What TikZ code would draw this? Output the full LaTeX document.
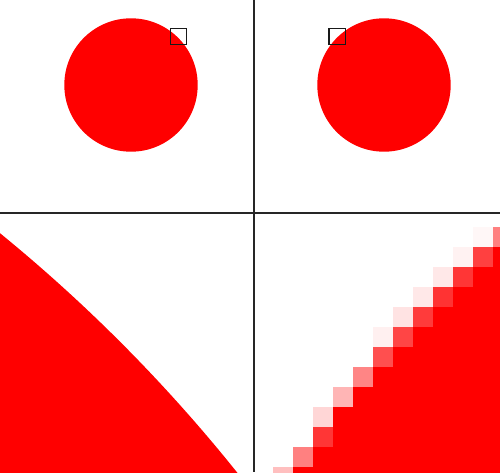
\documentclass[tikz,border=0pt]{standalone}
\begin{document}
\begin{tikzpicture}[x=1pt,y=-1pt,
  divider/.style={draw=black!85,line width=1.3pt},
  zoombox/.style={draw=black!90,line width=1.2pt},
  disc/.style={fill=red}]
\useasboundingbox[fill=white] (0,0) rectangle (500,472);
% top-left circle and box
\fill[disc] (131,85) circle (66.7pt);
\draw[zoombox] (170.7,28.3) rectangle (186.7,44.3);
% top-right circle and box
\fill[disc] (384,85) circle (66.7pt);
\draw[zoombox] (329,28.3) rectangle (345.3,44.3);
% bottom-left: smooth magnified edge
\begin{scope}
  \clip (0,213) rectangle (254,472);
  \fill[disc] (-1003.6,1464.7) circle (1588.6pt);
\end{scope}
% bottom-right: pixelated magnified edge
\begin{scope}
  \clip (254,213) rectangle (500,472);
  \foreach \r/\c in {1/11,2/10,3/9,4/8,5/7,6/6,7/5,8/4,9/3,10/3,11/2,12/1}
    \fill[disc] ({273.3+20*\c},{226.7+20*\r}) rectangle (500,{246.7+20*\r});
  \foreach \c/\r/\p in {11/0/50,10/0/3,9/1/5,10/1/75,8/2/9,9/2/79,7/3/9,8/3/80,
      6/4/11,7/4/77,5/5/6,6/5/73,5/6/69,4/7/48,3/8/29,2/9/16,2/10/79,1/11/50,0/12/25}
    \fill[red!\p] ({273.3+20*\c},{226.7+20*\r}) rectangle ({293.3+20*\c},{246.7+20*\r});
\end{scope}
% dividers
\coordinate (hl) at (0,213);
\coordinate (hr) at (500,213);
\coordinate (vt) at (254,0);
\coordinate (vb) at (254,472);
\draw[divider] (hl) -- (hr);
\draw[divider] (vt) -- (vb);
\end{tikzpicture}
\end{document}
